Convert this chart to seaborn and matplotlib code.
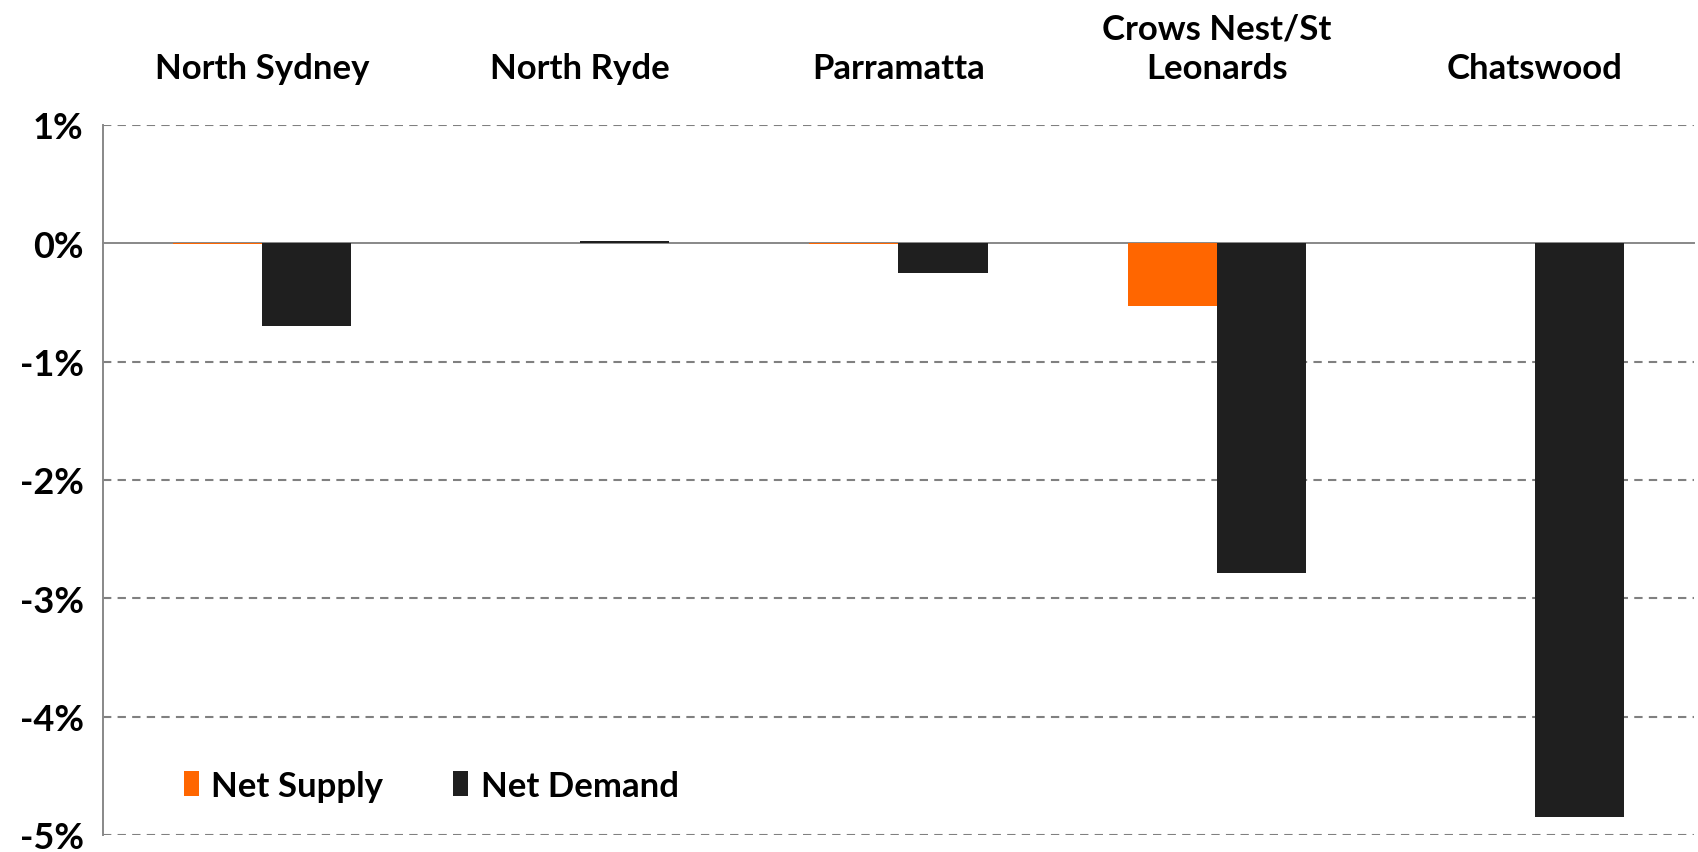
import matplotlib
matplotlib.use("Agg")
import matplotlib.pyplot as plt
import numpy as np
import pandas as pd
import seaborn as sns
from matplotlib.ticker import FixedLocator, PercentFormatter

regions = ["North Sydney", "North Ryde", "Parramatta", "Crows Nest/St\nLeonards", "Chatswood"]
net_supply = [-0.01, 0.0, -0.01, -0.53, 0.0]
net_demand = [-0.70, 0.02, -0.25, -2.79, -4.85]
series_names = ["Net Supply", "Net Demand"]
series_colors = ["#FF6600", "#1F1F1F"]
y_ticks = [1, 0, -1, -2, -3, -4, -5]

df = pd.DataFrame({
    "region": regions * 2,
    "series": [series_names[0]] * len(regions) + [series_names[1]] * len(regions),
    "value": net_supply + net_demand,
})

sns.set_style("white")
plt.rcParams["font.family"] = ["Lato", "DejaVu Sans"]
plt.rcParams["font.weight"] = "bold"
plt.rcParams["axes.unicode_minus"] = False
plt.rcParams["text.color"] = "black"
plt.rcParams["ytick.labelcolor"] = "black"

fig = plt.figure(figsize=(16.99, 8.53), dpi=100)
ax = fig.add_axes([0.0606, 0.0200, 0.9364, 0.8323])

sns.barplot(
    data=df, x="region", y="value", hue="series",
    palette=series_colors, width=0.56, saturation=1,
    edgecolor="none", linewidth=0, ax=ax,
)

ax.set_xlim(-0.5, len(regions) - 0.5)
ax.set_ylim(-5, 1)
ax.set_yticks(y_ticks)
ax.yaxis.set_major_formatter(PercentFormatter(decimals=0))
ax.tick_params(axis="y", labelsize=26, length=8, width=1.2, color="#888888", pad=6,
               labelcolor="black")
for lbl in ax.get_yticklabels():
    lbl.set_fontweight("bold")

for y in y_ticks:
    if y != 0:
        ax.axhline(y, color="#808080", linestyle=(0, (4, 3)), linewidth=1.5, zorder=0)

# category axis sits on zero, with ticks between categories
for side in ["top", "right"]:
    ax.spines[side].set_visible(False)
ax.spines["left"].set_color("#888888")
ax.spines["left"].set_linewidth(1.4)
ax.spines["bottom"].set_position(("data", 0))
ax.spines["bottom"].set_color("#888888")
ax.spines["bottom"].set_linewidth(1.4)
ax.spines["bottom"].set_zorder(0.5)
ax.set_xticks([])
ax.xaxis.set_minor_locator(FixedLocator(np.arange(-0.5, len(regions), 1)))
ax.tick_params(axis="x", which="minor", length=14, width=1.2, color="#888888", direction="out")
ax.set_xlabel("")
ax.set_ylabel("")

for i, name in enumerate(regions):
    ax.text(i, 1.058, name, transform=ax.get_xaxis_transform(), ha="center", va="bottom",
            fontsize=25, fontweight="bold", linespacing=1.3, color="black")

ax.legend(loc="lower left", bbox_to_anchor=(0.031, 0.003), ncol=2, frameon=False,
          prop={"size": 25, "weight": "bold"}, handlelength=0.45, handleheight=0.72,
          handletextpad=0.35, columnspacing=2.0)

plt.savefig("out.png", dpi=100)
plt.close()
